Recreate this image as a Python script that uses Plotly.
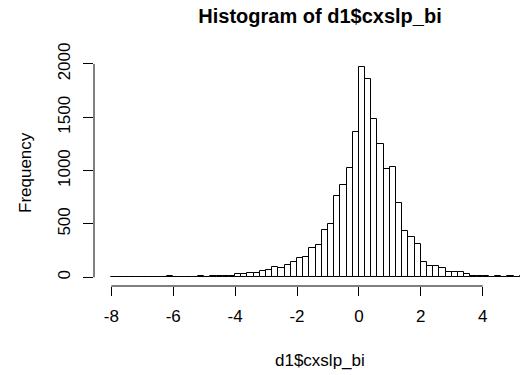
import plotly.graph_objects as go

# ---- data ----
bin_start = -8.0
bin_width = 0.2
counts = [
    1, 1, 1, 1, 1, 1, 1, 1, 1,          # -8.0 .. -6.4
    12,                                  # -6.2
    1, 1, 1,                             # -6.0 .. -5.6
    6, 8, 7, 9, 8, 10, 9,                # -5.4 .. -4.2
    31, 31, 43, 43, 56, 72, 94, 85,      # -4.0 .. -2.6
    118, 143, 178, 191, 275, 303, 447, 500,   # -2.4 .. -1.0
    759, 869, 1028, 1363,                # -0.8 .. -0.2
    1975, 1863, 1481, 1247, 1019, 1038,  # 0.0 .. 1.0
    694, 434, 375, 316, 144, 104, 104, 90,    # 1.2 .. 2.6
    53, 53, 53, 31, 15, 12, 12,          # 2.8 .. 4.0
    0, 8, 0, 8, 0, 8,                    # 4.2 .. 5.2
]
x_ticks = [-8, -6, -4, -2, 0, 2, 4]
x_tick_labels = ["-8", "-6", "-4", "-2", "0", "2", "4"]
y_ticks = [0, 500, 1000, 1500, 2000]
y_tick_labels = ["0", "500", "1000", "1500", "2000"]
title_text = "Histogram of d1$cxslp_bi"
x_label = "d1$cxslp_bi"
y_label = "Frequency"

centers = [bin_start + bin_width * (i + 0.5) for i in range(len(counts))]

W, H = 520, 375
ML, MR, MT, MB = 94, 0, 58, 89
FONT = "Liberation Sans, Arial, sans-serif"

fig = go.Figure()
fig.add_trace(go.Bar(
    x=centers, y=counts, width=bin_width,
    marker=dict(color="white", line=dict(color="black", width=1)),
    hoverinfo="x+y",
))

fig.update_layout(
    width=W, height=H,
    margin=dict(l=ML, r=MR, t=MT, b=MB, pad=0),
    paper_bgcolor="white", plot_bgcolor="white",
    showlegend=False, bargap=0,
    font=dict(family=FONT, size=17, color="black"),
    title=dict(text="<b>" + title_text + "</b>", x=320 / W, xanchor="center",
               y=1 - 16 / H, yanchor="middle", yref="container",
               font=dict(family=FONT, size=20, color="black")),
)
fig.update_xaxes(
    range=[-8.559, 5.205], showgrid=False, zeroline=False, showline=False,
    tickmode="array", tickvals=x_ticks, ticktext=x_tick_labels,
    ticks="outside", ticklen=9, tickwidth=1, tickcolor="black",
    tickfont=dict(family=FONT, size=17, color="black"),
    ticklabelstandoff=6,
)
fig.update_yaxes(
    range=[-81.6, 2056], showgrid=False, zeroline=False, showline=False,
    tickmode="array", tickvals=y_ticks, ticktext=y_tick_labels,
    ticks="outside", ticklen=10, tickwidth=1, tickcolor="black",
    tickangle=-90,
    tickfont=dict(family=FONT, size=17, color="black"),
    ticklabelstandoff=6,
)
# R-style axis lines spanning only the tick range
fig.add_shape(type="line", xref="x", yref="paper",
              x0=x_ticks[0], x1=x_ticks[-1], y0=0, y1=0,
              line=dict(color="black", width=1))
fig.add_shape(type="line", xref="paper", yref="y",
              x0=0, x1=0, y0=y_ticks[0], y1=y_ticks[-1],
              line=dict(color="black", width=1))

# axis titles
fig.add_annotation(text=x_label, xref="paper", yref="paper",
                   x=(320 - ML) / (W - ML - MR), y=-(360 - (H - MB)) / (H - MT - MB),
                   xanchor="center", yanchor="middle", showarrow=False,
                   font=dict(family=FONT, size=17, color="black"))
fig.add_annotation(text=y_label, xref="paper", yref="paper",
                   x=-(ML - 25) / (W - ML - MR), y=1 - (173 - MT) / (H - MT - MB),
                   xanchor="center", yanchor="middle", showarrow=False, textangle=-90,
                   font=dict(family=FONT, size=17, color="black"))

fig.write_html("out.html")
